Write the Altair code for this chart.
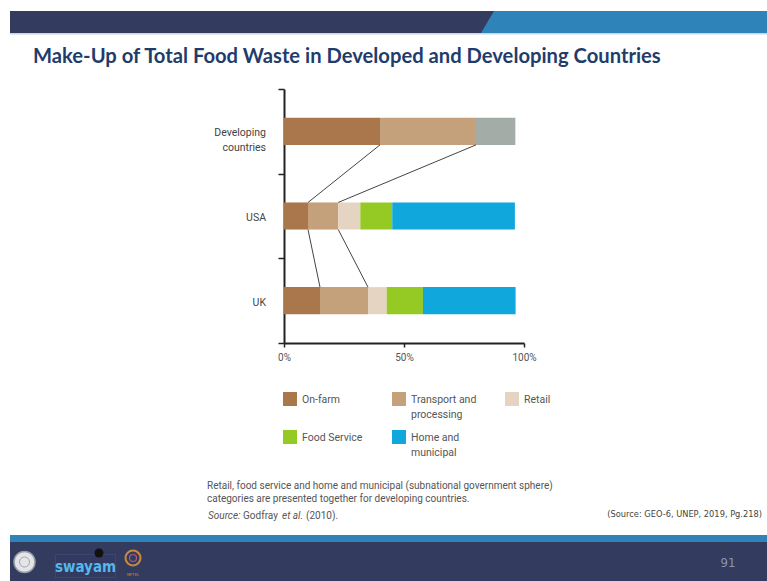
import altair as alt
import pandas as pd
import numpy as np

# ---------------- data ----------------
countries = ["Developing countries", "USA", "UK"]
country_labels = ["Developing\ncountries", "USA", "UK"]
categories = ["On-farm", "Transport and processing", "Retail", "Food Service", "Home and municipal"]
legend_labels = ["On-farm", "Transport and\nprocessing", "Retail", "Food Service", "Home and\nmunicipal"]
combined_category = "Retail, food service, home and municipal"
developing_values = [40.0, 40.0, 16.4]
usa_values = [10.0, 12.6, 9.2, 13.3, 51.1]
uk_values = [15.0, 20.0, 7.8, 15.1, 38.6]
category_colors = ["#a9774b", "#c4a07b", "#e6d4c3", "#95c923", "#10a7dd"]
combined_color = "#a3aca7"
x_ticks = [0, 50, 100]

title_text = "Make-Up of Total Food Waste in Developed and Developing Countries"
note_lines = ["Retail, food service and home and municipal (subnational government sphere)",
              "categories are presented together for developing countries."]
source_parts = [("Source:", "italic"), ("Godfray", "normal"), ("et al.", "italic"), ("(2010).", "normal")]
slide_source = "(Source: GEO-6, UNEP, 2019, Pg.218)"
page_number = "91"

# ---------------- layout ----------------
OX, OY = 284, 89          # plot origin in page pixels
PW, PH = 240, 254         # plot size
BAR_HALF = 0.16
FONT = "Roboto"
NARROW = "'Liberation Sans Narrow', 'Arial Narrow', 'DejaVu Sans Condensed', sans-serif"

series = [
    (countries[0], [categories[0], categories[1], combined_category], developing_values),
    (countries[1], categories, usa_values),
    (countries[2], categories, uk_values),
]

bar_rows = []
for ci, (c, cats, vals) in enumerate(series):
    start = 0.0
    for cat, v in zip(cats, vals):
        bar_rows.append(dict(country=c, category=cat, y1=ci + 0.5 - BAR_HALF, y2=ci + 0.5 + BAR_HALF,
                             x1=start, x2=start + v))
        start += v
bars_df = pd.DataFrame(bar_rows)

cums = [np.cumsum(vals) for _, _, vals in series]
conn_rows = []
for i in range(len(series) - 1):
    for k in range(2):
        conn_rows.append(dict(x1=float(cums[i][k]), x2=float(cums[i + 1][k]),
                              y1=i + 0.5 + BAR_HALF, y2=i + 1.5 - BAR_HALF))
conn_df = pd.DataFrame(conn_rows)

labels_df = pd.DataFrame({"label": country_labels, "y1": [i + 0.5 for i in range(len(countries))]})

xscale = alt.Scale(domain=[0, 100], nice=False, zero=False)
yscale = alt.Scale(domain=[0, 3], nice=False, zero=False, reverse=True)
xaxis = alt.Axis(values=x_ticks, labelExpr="datum.value + '%'", grid=False, title=None,
                 domainColor="#222", domainWidth=2, tickColor="#222", tickWidth=1.5,
                 tickSize=4, labelFont=FONT, labelFontSize=10, labelColor="#555",
                 labelPadding=5, labelFlush=False, labelOverlap=False)
yaxis = alt.Axis(values=[0, 1, 2, 3], labels=False, grid=False, title=None, domainColor="#222",
                 domainWidth=2, tickColor="#222", tickWidth=1.5, tickSize=6)

X = alt.X("x1:Q", scale=xscale, axis=xaxis, title=None)
Y = alt.Y("y1:Q", scale=yscale, axis=yaxis, title=None)

bars = alt.Chart(bars_df).mark_rect(strokeWidth=0).encode(
    x=X, x2="x2:Q", y=Y, y2="y2:Q",
    color=alt.Color("category:N",
                    scale=alt.Scale(domain=categories + [combined_category],
                                    range=category_colors + [combined_color]),
                    legend=None),
)

connectors = alt.Chart(conn_df).mark_rule(color="#444", strokeWidth=1).encode(
    x=X, x2="x2:Q", y=Y, y2="y2:Q",
)

country_text = alt.Chart(labels_df).mark_text(
    align="right", baseline="middle", lineBreak="\n", font=FONT, fontSize=10.5,
    color="#444", lineHeight=15, dy=2,
).encode(
    x=alt.value(-18),
    y=Y,
    text="label:N",
)

# ---------------- decorations ----------------
one = pd.DataFrame({"d": [0]})


def rect(x1, y1, x2, y2, color):
    return alt.Chart(one).mark_rect(color=color, strokeWidth=0).encode(
        x=alt.value(x1 - OX), x2=alt.value(x2 - OX), y=alt.value(y1 - OY), y2=alt.value(y2 - OY))


def text(x, y, s, size, color, font=FONT, weight="normal", style="normal", align="left",
         baseline="middle", line_break=None, line_height=None):
    kw = dict(text=s, fontSize=size, color=color, font=font, fontWeight=weight, fontStyle=style,
              align=align, baseline=baseline)
    if line_break:
        kw["lineBreak"] = line_break
    if line_height:
        kw["lineHeight"] = line_height
    return alt.Chart(one).mark_text(**kw).encode(x=alt.value(x - OX), y=alt.value(y - OY))


def path(d, color):
    return alt.Chart(one).mark_point(shape=d, size=4, filled=True, fill=color, opacity=1,
                                     strokeWidth=0).encode(x=alt.value(-OX), y=alt.value(-OY))


def circle(cx, cy, r, fill, stroke, sw):
    kw = dict(shape="circle", size=(2 * r) ** 2, opacity=1, strokeWidth=sw)
    if fill:
        kw.update(filled=True, fill=fill)
    else:
        kw.update(filled=False)
    if stroke:
        kw["stroke"] = stroke
    return alt.Chart(one).mark_point(**kw).encode(x=alt.value(cx - OX), y=alt.value(cy - OY))


NAVY = "#333b5f"
BLUE = "#2e84b9"

deco = [
    rect(10, 11, 767, 33, NAVY),
    path("M 494 11 L 767 11 L 767 33 L 481 33 Z", BLUE),
    rect(10, 33, 767, 34.5, "#c9d5e4"),
    rect(10, 535, 767, 542, BLUE),
    rect(10, 542, 767, 581, NAVY),
    # logos (approximate)
    circle(24.5, 562, 10.5, "#e4e5e8", "#9a9caa", 1.5),
    circle(24.5, 562, 5, None, "#a3a5b0", 1),
    rect(55, 554, 116, 578, "#3d4670"),
    rect(56, 555, 115, 577, "#323a62"),
    text(85.5, 567, "swayam", 15, "#55b8ec", font=NARROW, weight="bold", align="center"),
    circle(99, 553, 4.5, "#111", None, 0),
    circle(133, 558, 7.5, None, "#c98a3a", 2),
    circle(133, 558, 3.5, None, "#b05b7a", 1.2),
    text(133, 575, "NPTEL", 4, "#c98a3a", align="center"),
    text(728, 563, page_number, 13, "#8a93b0", font=NARROW, align="center"),
    # title and notes
    text(33, 62.5, title_text, 20.2, "#1f3d6b", font="Lato", weight="bold", baseline="alphabetic"),
    text(762, 514, slide_source, 9.2, "#444", font=NARROW, align="right"),
]

for i, line in enumerate(note_lines):
    deco.append(text(207, 486 + i * 13.3, line, 10, "#555"))

source_offsets = [0, 35, 74, 98]
for (s, st), off in zip(source_parts, source_offsets):
    deco.append(text(208 + off, 516, s, 10, "#555", style=st))

# legend
LEG_COL_X = [283, 392, 505]
LEG_ROW_Y = [399, 437]
legend_layers = []
for i, (lab, col) in enumerate(zip(legend_labels, category_colors)):
    cx = LEG_COL_X[i % 3]
    cy = LEG_ROW_Y[i // 3]
    legend_layers.append(rect(cx, cy - 7, cx + 14, cy + 7, col))
    legend_layers.append(text(cx + 19, cy + 3.7, lab, 10.5, "#555", baseline="alphabetic",
                              line_break="\n", line_height=15))

chart = alt.layer(bars, connectors, country_text, *deco, *legend_layers).properties(
    width=PW, height=PH,
    padding={"left": OX, "top": OY, "right": 767 - OX - PW, "bottom": 581 - OY - PH},
    autosize=alt.AutoSizeParams(type="none"),
    background="white",
).configure_view(stroke=None)

chart.save("out.html", embed_options={"renderer": "svg", "actions": False})
